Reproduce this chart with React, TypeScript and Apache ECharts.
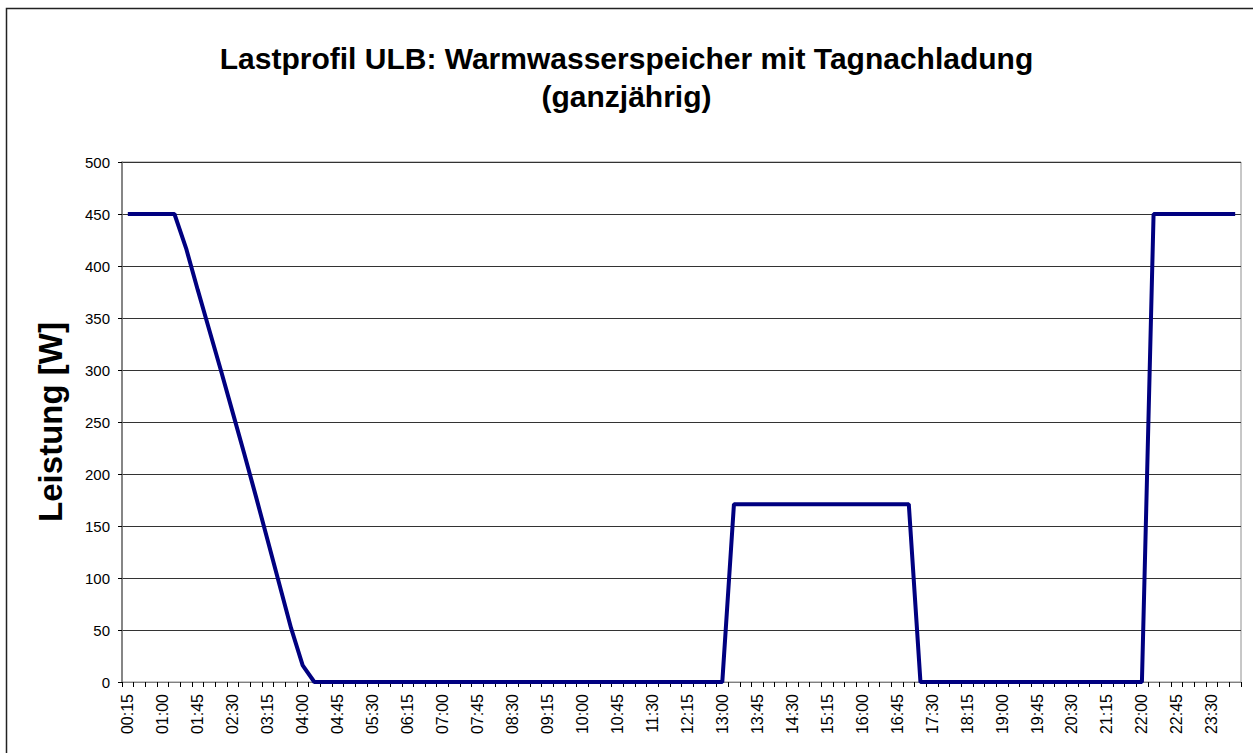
import React, { useEffect, useRef } from "react";
import * as echarts from "echarts";

const times: string[] = [];
for (let i = 1; i <= 96; i++) {
  const m = i * 15;
  const hh = String(Math.floor(m / 60)).padStart(2, "0");
  const mm = String(m % 60).padStart(2, "0");
  times.push(`${hh}:${mm}`);
}

// Leistung [W] per 15-minute interval (00:15 ... 24:00)
const nightRamp = [450, 450, 450, 450, 450, 417, 377, 338, 299, 259, 219, 178, 136, 94, 52, 16];
const morningToNoonZeros = [
  0, 0, 0, 0, 0, 0, 0, 0, 0, 0, 0, 0, 0, 0, 0, 0, 0, 0, 0, 0, 0, 0, 0, 0, 0, 0, 0, 0, 0, 0, 0, 0, 0, 0, 0, 0,
];
const dayRecharge = [171, 171, 171, 171, 171, 171, 171, 171, 171, 171, 171, 171, 171, 171, 171, 171];
const eveningZeros = [0, 0, 0, 0, 0, 0, 0, 0, 0, 0, 0, 0, 0, 0, 0, 0, 0, 0, 0, 0];
const lateNight = [450, 450, 450, 450, 450, 450, 450, 450];

const values = [...nightRamp, ...morningToNoonZeros, ...dayRecharge, ...eveningZeros, ...lateNight];

const yTicks = [0, 50, 100, 150, 200, 250, 300, 350, 400, 450, 500];

const FONT = 'Arial, "Liberation Sans", sans-serif';

export default function App() {
  const ref = useRef<HTMLDivElement>(null);
  useEffect(() => {
    if (!ref.current) return;
    const chart = echarts.init(ref.current, undefined, { renderer: "svg" });
    chart.setOption({
      animation: false,
      backgroundColor: "#ffffff",
      title: {
        text: "Lastprofil ULB: Warmwasserspeicher mit Tagnachladung\n(ganzjährig)",
        left: "center",
        top: 34,
        textStyle: {
          fontFamily: FONT,
          fontSize: 30,
          fontWeight: "bold",
          color: "#000",
          lineHeight: 38,
        },
      },
      graphic: [
        {
          type: "rect",
          shape: { x: 6.5, y: 8.5, width: 1300, height: 800 },
          style: { fill: "none", stroke: "#222", lineWidth: 1.5 },
          silent: true,
        },
        {
          type: "text",
          x: 50,
          y: 422,
          rotation: Math.PI / 2,
          style: {
            text: "Leistung [W]",
            fontFamily: FONT,
            fontSize: 33,
            fontWeight: "bold",
            fill: "#000",
            align: "center",
            verticalAlign: "middle",
          },
          silent: true,
        },
      ],
      grid: {
        left: 122,
        right: 12,
        top: 162,
        bottom: 71,
        show: true,
        borderColor: "#909090",
        borderWidth: 1,
      },
      xAxis: {
        type: "category",
        data: times,
        boundaryGap: true,
        axisLine: { lineStyle: { color: "#808080", width: 1 } },
        axisTick: { show: true, interval: 0, length: 5, lineStyle: { color: "#000" } },
        axisLabel: {
          interval: 2,
          rotate: 90,
          margin: 12,
          fontFamily: FONT,
          fontSize: 16,
          color: "#000",
        },
        splitLine: { show: false },
      },
      yAxis: {
        type: "value",
        min: yTicks[0],
        max: yTicks[yTicks.length - 1],
        interval: 50,
        axisLine: { show: true, lineStyle: { color: "#707070", width: 1.5 } },
        axisTick: { show: true, length: 4, lineStyle: { color: "#000" } },
        axisLabel: { margin: 12, fontFamily: FONT, fontSize: 15, color: "#000" },
        splitLine: { show: true, lineStyle: { color: "#333", width: 1 } },
      },
      series: [
        {
          type: "line",
          data: values,
          symbol: "none",
          lineStyle: { color: "#000080", width: 4 },
        },
      ],
    });
    return () => chart.dispose();
  }, []);
  return (
    <div
      ref={ref}
      style={{ position: "absolute", left: 0, top: 0, width: 1253, height: 753 }}
    />
  );
}
